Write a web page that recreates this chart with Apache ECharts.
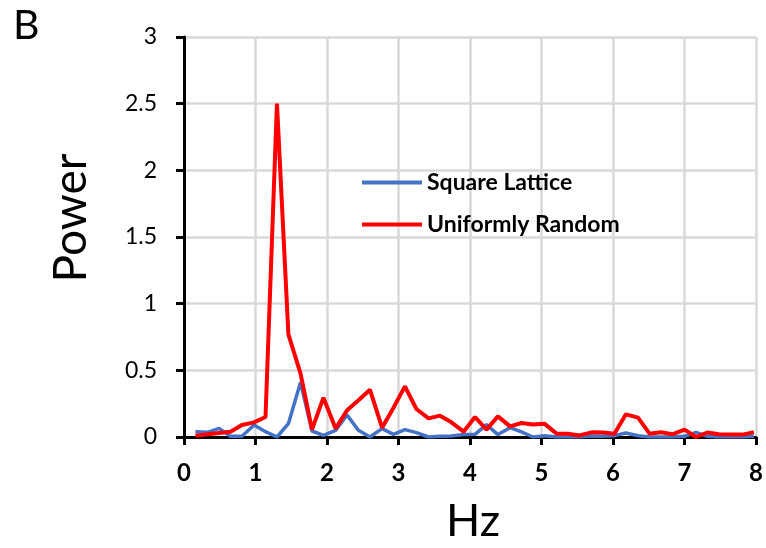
<!DOCTYPE html>
<html>
<head>
<meta charset="utf-8">
<script src="https://cdn.jsdelivr.net/npm/echarts@6/dist/echarts.min.js"></script>
<style>html,body{margin:0;padding:0;background:#fff}#c{width:766px;height:548px}</style>
</head>
<body>
<div id="c"></div>
<script>
var freqHz = [0.16,0.33,0.49,0.65,0.81,0.98,1.14,1.30,1.46,1.63,1.79,1.95,2.12,2.28,2.44,2.60,2.77,2.93,3.09,3.25,3.42,3.58,3.74,3.91,4.07,4.23,4.39,4.56,4.72,4.88,5.04,5.21,5.37,5.53,5.70,5.86,6.02,6.18,6.35,6.51,6.67,6.83,7.00,7.16,7.32,7.48,7.65,7.81,7.97];
var squareLattice = [0.04,0.035,0.065,0.005,0.005,0.09,0.04,0.0,0.1,0.41,0.045,0.013,0.05,0.165,0.05,0.0,0.063,0.02,0.055,0.033,0.0,0.005,0.008,0.018,0.02,0.093,0.018,0.07,0.038,0.0,0.01,0.0,0.0,0.0,0.007,0.005,0.01,0.03,0.01,0.0,0.0,0.0,0.005,0.035,0.005,0.0,0.0,0.0,0.005];
var uniformlyRandom = [0.01,0.02,0.03,0.04,0.09,0.11,0.15,2.50,0.77,0.475,0.055,0.295,0.063,0.2,0.275,0.355,0.07,0.22,0.38,0.21,0.14,0.16,0.11,0.04,0.15,0.055,0.155,0.08,0.105,0.093,0.1,0.025,0.025,0.012,0.035,0.033,0.025,0.17,0.145,0.025,0.035,0.02,0.055,0.0,0.033,0.02,0.018,0.018,0.035];
var seriesNames = ['Square Lattice','Uniformly Random'];
var xTitle = 'Hz', yTitle = 'Power', panelLabel = 'B';

function pairs(xs, ys){ return xs.map(function(x,i){ return [x, ys[i]]; }); }
var FONT = 'Lato';
var chart = echarts.init(document.getElementById('c'));
chart.setOption({
  animation: false,
  backgroundColor: '#fff',
  grid: {left: 184, right: 9, top: 37, bottom: 111},
  legend: {
    orient: 'vertical', left: 357, top: 166, itemWidth: 60, itemHeight: 4, itemGap: 19,
    icon: 'rect',
    textStyle: {fontFamily: FONT, fontWeight: 'bold', fontSize: 23, color: '#000'},
    data: seriesNames
  },
  xAxis: {
    type: 'value', min: 0, max: 8, interval: 1,
    axisLine: {lineStyle: {color: '#000', width: 3}},
    axisTick: {show: true, length: 8, lineStyle: {color: '#000', width: 3}},
    axisLabel: {fontFamily: FONT, fontWeight: 'bold', fontSize: 24, color: '#000', margin: 24},
    splitLine: {show: true, lineStyle: {color: '#d9d9d9', width: 2.5}}
  },
  yAxis: {
    type: 'value', min: 0, max: 3, interval: 0.5,
    axisLine: {show: true, lineStyle: {color: '#000', width: 3}},
    axisTick: {show: true, length: 8, lineStyle: {color: '#000', width: 3}},
    axisLabel: {fontFamily: FONT, fontSize: 23, color: '#000', margin: 27},
    splitLine: {show: true, lineStyle: {color: '#d9d9d9', width: 2.5}}
  },
  graphic: [
    {type: 'text', left: 13, top: 5, style: {text: panelLabel, fontFamily: FONT, fontSize: 41, fill: '#000'}},
    {type: 'text', x: 71, y: 218, rotation: Math.PI/2, style: {text: yTitle, fontFamily: FONT, fontSize: 46, fill: '#000', textAlign: 'center', textVerticalAlign: 'middle'}},
    {type: 'text', x: 473, y: 521, style: {text: xTitle, fontFamily: FONT, fontSize: 45, fill: '#000', textAlign: 'center', textVerticalAlign: 'middle'}}
  ],
  series: [
    {name: seriesNames[0], type: 'line', data: pairs(freqHz, squareLattice), symbol: 'none', color: '#4472C4', lineStyle: {width: 3.5, color: '#4472C4'}, z: 2},
    {name: seriesNames[1], type: 'line', data: pairs(freqHz, uniformlyRandom), symbol: 'none', color: '#FF0000', lineStyle: {width: 4, color: '#FF0000'}, z: 3}
  ]
});
</script>
</body>
</html>
